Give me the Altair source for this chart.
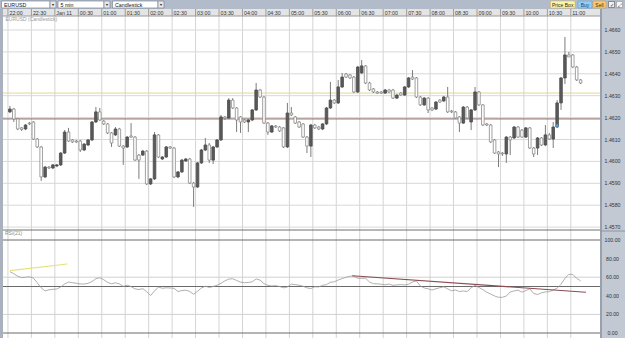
import altair as alt
import pandas as pd
import numpy as np

# ---------------- data (EURUSD, 5 min candles) ----------------
opens = [1.46226,1.46239,1.46194,1.46153,1.46148,1.46175,1.46180,1.46102,1.46066,1.45929,
         1.45974,1.45970,1.45979,1.45984,1.46038,1.46134,1.46098,1.46093,1.46093,1.46052,
         1.46075,1.46098,1.46180,1.46226,1.46184,1.46171,1.46130,1.46121,1.46148,1.46070,
         1.46066,1.46116,1.46111,1.46029,1.46029,1.46047,1.45897,1.45920,1.46121,1.46011,
         1.46020,1.46066,1.46061,1.45929,1.45952,1.46002,1.46011,1.45901,1.45883,1.45993,
         1.46052,1.46075,1.46006,1.46066,1.46098,1.46203,1.46198,1.46280,1.46244,1.46203,
         1.46189,1.46180,1.46189,1.46235,1.46326,1.46294,1.46175,1.46134,1.46162,1.46157,
         1.46153,1.46066,1.46221,1.46203,1.46180,1.46171,1.46111,1.46070,1.46166,1.46157,
         1.46148,1.46171,1.46244,1.46280,1.46267,1.46340,1.46399,1.46395,1.46385,1.46317,
         1.46404,1.46436,1.46358,1.46331,1.46317,1.46317,1.46312,1.46326,1.46326,1.46289,
         1.46312,1.46303,1.46340,1.46385,1.46381,1.46294,1.46258,1.46289,1.46244,1.46239,
         1.46280,1.46276,1.46294,1.46230,1.46226,1.46203,1.46175,1.46248,1.46180,1.46235,
         1.46317,1.46258,1.46171,1.46166,1.46098,1.46043,1.46038,1.46034,1.46111,1.46107,
         1.46157,1.46143,1.46111,1.46153,1.46061,1.46061,1.46107,1.46075,1.46121,1.46102,
         1.46157,1.46267,1.46381,1.46486,1.46486,1.46431,1.46372]
highs = [1.46253,1.46244,1.46198,1.46157,1.46171,1.46180,1.46184,1.46107,1.46070,1.45979,
         1.45979,1.45988,1.45988,1.46043,1.46143,1.46153,1.46102,1.46098,1.46098,1.46084,
         1.46102,1.46184,1.46248,1.46244,1.46189,1.46175,1.46134,1.46157,1.46153,1.46075,
         1.46116,1.46175,1.46116,1.46034,1.46052,1.46052,1.45924,1.46134,1.46125,1.46025,
         1.46070,1.46070,1.46066,1.45956,1.46011,1.46016,1.46016,1.45906,1.45997,1.46057,
         1.46107,1.46084,1.46070,1.46102,1.46212,1.46207,1.46289,1.46289,1.46248,1.46207,
         1.46194,1.46194,1.46239,1.46358,1.46331,1.46299,1.46180,1.46166,1.46166,1.46162,
         1.46157,1.46267,1.46248,1.46207,1.46184,1.46175,1.46116,1.46171,1.46171,1.46162,
         1.46175,1.46248,1.46363,1.46285,1.46372,1.46404,1.46404,1.46399,1.46390,1.46436,
         1.46463,1.46440,1.46363,1.46335,1.46321,1.46321,1.46331,1.46331,1.46331,1.46308,
         1.46317,1.46344,1.46385,1.46417,1.46385,1.46299,1.46294,1.46294,1.46248,1.46276,
         1.46285,1.46299,1.46340,1.46235,1.46230,1.46207,1.46253,1.46253,1.46239,1.46340,
         1.46321,1.46262,1.46175,1.46171,1.46102,1.46047,1.46043,1.46116,1.46116,1.46162,
         1.46162,1.46148,1.46157,1.46157,1.46066,1.46111,1.46111,1.46166,1.46130,1.46180,
         1.46280,1.46385,1.46568,1.46500,1.46490,1.46436,1.46376]
lows = [1.46221,1.46180,1.46143,1.46139,1.46143,1.46166,1.46098,1.46061,1.45911,1.45924,
        1.45965,1.45965,1.45974,1.45979,1.46034,1.46089,1.46084,1.46084,1.46043,1.46047,
        1.46070,1.46093,1.46175,1.46184,1.46166,1.46125,1.46066,1.46116,1.46066,1.45984,
        1.46061,1.46107,1.46002,1.45920,1.46025,1.45892,1.45892,1.45915,1.46016,1.46006,
        1.46016,1.46057,1.45924,1.45924,1.45947,1.45997,1.45897,1.45792,1.45879,1.45988,
        1.46047,1.45993,1.45988,1.46061,1.46093,1.46189,1.46194,1.46239,1.46134,1.46130,
        1.46175,1.46134,1.46184,1.46230,1.46289,1.46171,1.46121,1.46130,1.46153,1.46134,
        1.46061,1.46061,1.46207,1.46171,1.46153,1.46107,1.46038,1.46020,1.46148,1.46143,
        1.46143,1.46166,1.46239,1.46262,1.46262,1.46335,1.46381,1.46376,1.46312,1.46312,
        1.46399,1.46353,1.46321,1.46312,1.46308,1.46308,1.46308,1.46312,1.46285,1.46285,
        1.46299,1.46299,1.46335,1.46372,1.46289,1.46253,1.46253,1.46221,1.46230,1.46235,
        1.46267,1.46271,1.46221,1.46221,1.46194,1.46134,1.46171,1.46194,1.46143,1.46230,
        1.46253,1.46162,1.46162,1.46084,1.46034,1.45974,1.46025,1.45993,1.46029,1.46102,
        1.46107,1.46107,1.46107,1.46057,1.46020,1.46029,1.46070,1.46070,1.46098,1.46061,
        1.46153,1.46235,1.46353,1.46477,1.46426,1.46367,1.46353]
closes = [1.46239,1.46194,1.46148,1.46146,1.46166,1.46171,1.46102,1.46066,1.45929,1.45974,
          1.45970,1.45984,1.45984,1.46038,1.46134,1.46093,1.46089,1.46089,1.46052,1.46079,
          1.46098,1.46180,1.46226,1.46189,1.46171,1.46130,1.46084,1.46148,1.46070,1.46061,
          1.46111,1.46111,1.46006,1.46006,1.46047,1.45897,1.45920,1.46121,1.46020,1.46020,
          1.46066,1.46061,1.45929,1.45952,1.46006,1.46011,1.45901,1.45883,1.45993,1.46052,
          1.46075,1.46006,1.46066,1.46098,1.46203,1.46198,1.46280,1.46244,1.46189,1.46180,
          1.46180,1.46189,1.46235,1.46326,1.46294,1.46175,1.46134,1.46162,1.46157,1.46139,
          1.46066,1.46221,1.46212,1.46175,1.46157,1.46111,1.46070,1.46166,1.46153,1.46148,
          1.46171,1.46244,1.46280,1.46267,1.46340,1.46385,1.46385,1.46381,1.46317,1.46431,
          1.46436,1.46358,1.46326,1.46317,1.46312,1.46312,1.46326,1.46317,1.46289,1.46303,
          1.46303,1.46340,1.46381,1.46376,1.46294,1.46258,1.46289,1.46235,1.46235,1.46271,
          1.46271,1.46294,1.46226,1.46226,1.46198,1.46175,1.46248,1.46198,1.46235,1.46317,
          1.46258,1.46166,1.46166,1.46089,1.46038,1.46034,1.46034,1.46111,1.46098,1.46157,
          1.46111,1.46111,1.46153,1.46061,1.46034,1.46107,1.46075,1.46121,1.46102,1.46157,
          1.46267,1.46381,1.46486,1.46477,1.46431,1.46372,1.46358]
rsi = [66.0,63.7,61.0,59.6,60.0,60.5,59.1,54.0,48.6,45.2,
       46.5,47.0,47.3,49.5,52.7,54.8,54.1,53.5,52.7,52.7,
       53.4,55.4,58.4,59.4,57.3,54.4,52.9,54.0,52.8,50.1,
       51.4,49.9,47.5,46.7,47.7,44.3,40.3,45.2,49.4,48.1,
       48.6,48.4,48.1,44.6,45.6,46.1,44.7,41.6,44.9,48.4,
       50.3,49.0,50.0,51.3,53.5,56.0,58.0,58.3,56.5,54.7,
       54.1,54.3,55.1,58.1,56.9,53.1,51.2,50.6,50.9,50.0,
       48.6,49.5,52.6,52.0,51.4,50.3,48.5,47.8,49.7,49.5,
       51.3,52.0,54.6,55.1,57.0,58.5,59.9,61.1,61.2,58.9,
       58.8,58.9,54.8,53.0,52.9,52.4,51.8,52.7,51.2,51.7,
       52.0,51.7,52.4,54.8,55.9,50.5,48.4,47.5,46.2,47.6,
       48.7,49.6,47.5,45.3,46.2,44.6,45.2,44.7,48.6,51.2,
       49.0,46.6,43.9,41.9,39.8,38.4,38.4,39.7,44.1,45.3,
       46.1,43.9,45.6,47.6,42.5,41.4,43.2,44.2,44.4,46.2,
       48.1,52.4,58.8,63.1,63.1,58.8,56.0]

time_labels = ["22:00", "22:30", "Jan 11", "00:30", "01:00", "01:30", "02:00", "02:30",
               "03:00", "03:30", "04:00", "04:30", "05:00", "05:30", "06:00", "06:30",
               "07:00", "07:30", "08:00", "08:30", "09:00", "09:30", "10:00", "10:30", "11:00"]
price_ticks = [1.4570, 1.4580, 1.4590, 1.4600, 1.4610, 1.4620, 1.4630, 1.4640, 1.4650, 1.4660]
rsi_ticks = [0, 20, 40, 60, 80, 100]
rsi_light_grid = [20, 60]
rsi_dark_lines = [0, 50, 100]
level_prices = [1.46312, 1.46194]          # yellow, red horizontal levels
level_names = ["yellow", "red"]
trend_minutes_yellow = [2.5, 75.9]
trend_rsi_yellow = [67.0, 74.2]
trend_minutes_red = [440.4, 739.3]
trend_rsi_red = [61.6, 43.8]
marker_minutes = [702.5]
marker_prices = [1.46166]

# ---------------- frames ----------------
n = len(closes)
df = pd.DataFrame({"open": opens, "high": highs, "low": lows, "close": closes, "rsi": rsi})
df["t"] = [5 * i + 2.5 for i in range(n)]
df["dir"] = np.where(df["close"] >= df["open"], "up", "down")

ticks_df = pd.DataFrame({"m": [30 * k for k in range(len(time_labels))], "label": time_labels})
price_df = pd.DataFrame({"p": price_ticks})
rsi_df = pd.DataFrame({"r": rsi_ticks})
levels_df = pd.DataFrame({"p": level_prices, "name": level_names})
ty_df = pd.DataFrame({"t": trend_minutes_yellow, "r": trend_rsi_yellow})
tr_df = pd.DataFrame({"t": trend_minutes_red, "r": trend_rsi_red})
mk_df = pd.DataFrame({"t": marker_minutes, "p": marker_prices})
one = pd.DataFrame({"k": [0]})

PXM = 572 / 720.0
XS = alt.Scale(domain=[-3 / PXM, 622 / PXM], nice=False, zero=False)
YP = alt.Scale(domain=[1.4660 - 308 / 21900.0, 1.4660 + 30 / 21900.0], nice=False, zero=False)
YR = alt.Scale(domain=[100 - 98 / 0.93, 100 + 240 / 0.93], nice=False, zero=False)
FONT = "Liberation Sans"


def X(f):
    return alt.X(f, type="quantitative", scale=XS, axis=None)


def box(x, x2, y, y2, fill, stroke=None, sw=1):
    kw = dict(fill=fill)
    if stroke:
        kw.update(stroke=stroke, strokeWidth=sw)
    return alt.Chart(one).mark_rect(**kw).encode(
        x=alt.value(x), x2=alt.value(x2), y=alt.value(y), y2=alt.value(y2))


def txt(x, y, s, size=5.3, color="#222", align="left"):
    return alt.Chart(one).mark_text(align=align, baseline="middle", fontSize=size,
                                    color=color, font=FONT).encode(
        x=alt.value(x), y=alt.value(y), text=alt.value(s))


def hrule(y, x, x2, color, sw=1):
    return alt.Chart(one).mark_rule(color=color, strokeWidth=sw).encode(
        x=alt.value(x), x2=alt.value(x2), y=alt.value(y))


layers = []

# vertical grid
layers.append(alt.Chart(ticks_df).mark_rule(color="#d4d4d4", strokeWidth=1).encode(
    x=X("m"), y=alt.value(16), y2=alt.value(338)))
# price grid
layers.append(alt.Chart(price_df).mark_rule(color="#d8d8d8", strokeWidth=1).encode(
    x=alt.value(3), x2=alt.value(600), y=alt.Y("p:Q", scale=YP, axis=None)))
# level lines
layers.append(alt.Chart(levels_df).mark_rule(strokeWidth=1).encode(
    x=alt.value(3), x2=alt.value(600), y=alt.Y("p:Q", scale=YP, axis=None),
    color=alt.Color("name:N", scale=alt.Scale(domain=["yellow", "red"], range=["#dedb8a", "#8a6464"]),
                    legend=None)))
# wicks
layers.append(alt.Chart(df).mark_rule(color="#7c7c7c", strokeWidth=1).encode(
    x=X("t"), y=alt.Y("low:Q", scale=YP, axis=None), y2="high:Q"))
# bodies
layers.append(alt.Chart(df).mark_bar(size=2.6, strokeWidth=0.8).encode(
    x=X("t"), y=alt.Y("open:Q", scale=YP, axis=None), y2="close:Q",
    fill=alt.Fill("dir:N", scale=alt.Scale(domain=["up", "down"], range=["#5a5a5a", "#ffffff"]), legend=None),
    stroke=alt.Stroke("dir:N", scale=alt.Scale(domain=["up", "down"], range=["#4a4a4a", "#8a8a8a"]), legend=None)))
# marker
layers.append(alt.Chart(mk_df).mark_point(shape="triangle-up", filled=True, size=14, color="#4fa6e6", opacity=1).encode(
    x=X("t"), y=alt.Y("p:Q", scale=YP, axis=None)))

# panel separators
layers.append(hrule(230, 3, 600, "#707070", 1))
# RSI grid
layers.append(alt.Chart(pd.DataFrame({"r": rsi_light_grid})).mark_rule(color="#d0d0d0").encode(
    x=alt.value(3), x2=alt.value(600), y=alt.Y("r:Q", scale=YR, axis=None)))
layers.append(alt.Chart(pd.DataFrame({"r": rsi_dark_lines})).mark_rule(color="#6a6a6a").encode(
    x=alt.value(3), x2=alt.value(600), y=alt.Y("r:Q", scale=YR, axis=None)))
# RSI line
layers.append(alt.Chart(df).mark_line(color="#9a9a9a", strokeWidth=0.8).encode(
    x=X("t"), y=alt.Y("rsi:Q", scale=YR, axis=None)))
# trend lines
layers.append(alt.Chart(ty_df).mark_line(color="#e6e27a", strokeWidth=1.2).encode(
    x=X("t"), y=alt.Y("r:Q", scale=YR, axis=None)))
layers.append(alt.Chart(tr_df).mark_line(color="#8b4b50", strokeWidth=1.1).encode(
    x=X("t"), y=alt.Y("r:Q", scale=YR, axis=None)))

# panel titles
layers.append(txt(5.5, 18.8, "EURUSD (Candlestick)", 5, "#9a9a9a"))
layers.append(txt(5, 232.5, "RSI(21)", 5, "#8a8a8a"))

# header row with time labels
layers.append(box(3, 600, 9, 16, "#e4e4e4"))
layers.append(alt.Chart(ticks_df).mark_rule(color="#9c9c9c").encode(
    x=X("m"), y=alt.value(9), y2=alt.value(16)))
layers.append(hrule(16, 3, 600, "#9a9a9a"))
layers.append(alt.Chart(ticks_df).mark_text(align="left", baseline="middle", dx=1.5, fontSize=5.3,
                                            font=FONT, color="#333").encode(
    x=X("m"), y=alt.value(12.8), text="label:N"))

# toolbar
layers.append(box(0, 625, 0, 9, "#b2bbca"))
layers.append(box(1.5, 50, 1, 8, "#ffffff", "#7c8797", 0.7))
layers.append(box(50, 56, 1, 8, "#e3e7ee", "#7c8797", 0.7))
layers.append(txt(4, 4.6, "EURUSD", 5.3, "#111"))
layers.append(txt(53, 4.8, "▼", 3.5, "#222", "center"))
layers.append(box(58, 104, 1, 8, "#ffffff", "#7c8797", 0.7))
layers.append(box(104, 110, 1, 8, "#e3e7ee", "#7c8797", 0.7))
layers.append(txt(60.5, 4.6, "5 min", 5.3, "#111"))
layers.append(txt(107, 4.8, "▼", 3.5, "#222", "center"))
layers.append(box(112.5, 158, 1, 8, "#ffffff", "#7c8797", 0.7))
layers.append(box(158, 164, 1, 8, "#e3e7ee", "#7c8797", 0.7))
layers.append(txt(115, 4.6, "Candlestick", 5.3, "#111"))
layers.append(txt(161, 4.8, "▼", 3.5, "#222", "center"))
layers.append(box(550.5, 575, 1, 8, "#fff4a6", "#c9b860", 0.6))
layers.append(txt(562.7, 4.6, "Price Box", 5, "#222", "center"))
layers.append(box(578, 592, 1, 8, "#8fd0fb", "#5f9fce", 0.6))
layers.append(txt(585, 4.6, "Buy", 5, "#1f3f66", "center"))
layers.append(box(593, 606, 1, 8, "#ffc66a", "#d19a3a", 0.6))
layers.append(txt(599.5, 4.6, "Sell", 5, "#4a2a00", "center"))
layers.append(box(608.5, 614.5, 1.5, 7.5, "#f2f2f2", "#555", 0.6))
layers.append(txt(611.5, 4.6, "✓", 5, "#222", "center"))
layers.append(box(616.5, 622.5, 1.5, 7.5, "#f7f7f7", "#777", 0.4))
layers.append(txt(619.5, 4.6, "⤢", 5, "#222", "center"))

# left strip
layers.append(box(0, 3, 9, 338, "#a9b1be"))
# right axis panel
layers.append(box(600, 625, 9, 338, "#c3c9d3"))
layers.append(box(600, 602, 9, 338, "#98a0ad"))
layers.append(hrule(231, 600, 625, "#8d95a3"))
layers.append(alt.Chart(price_df).mark_text(align="center", baseline="middle", fontSize=5.2,
                                            font=FONT, color="#333").encode(
    x=alt.value(612.5), y=alt.Y("p:Q", scale=YP, axis=None), text=alt.Text("p:Q", format=".4f")))
layers.append(alt.Chart(rsi_df).mark_text(align="center", baseline="middle", fontSize=5.2,
                                          font=FONT, color="#333").encode(
    x=alt.value(612.5), y=alt.Y("r:Q", scale=YR, axis=None), text=alt.Text("r:Q", format=".2f")))

chart = alt.layer(*layers).resolve_scale(y="independent").properties(
    width=625, height=338, padding=0, background="white",
    autosize=alt.AutoSizeParams(type="none")
).configure_view(stroke=None)

chart.save("out.html", embed_options={"renderer": "svg", "actions": False})
